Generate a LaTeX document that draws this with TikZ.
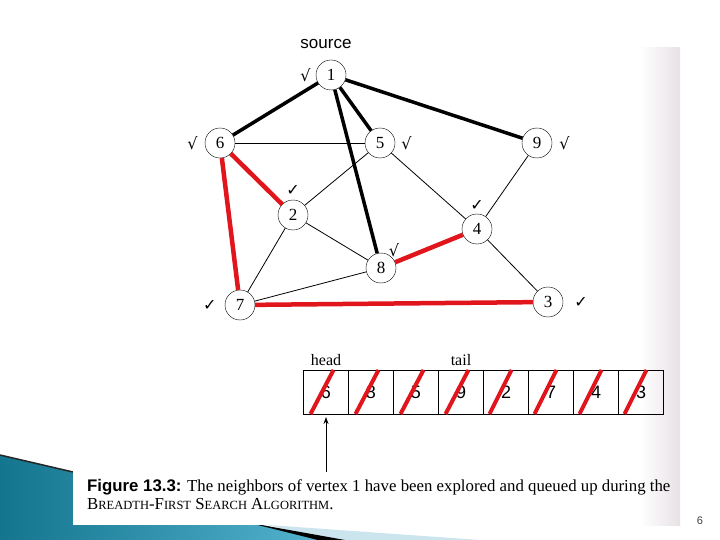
\documentclass[tikz,border=0pt]{standalone}
\usepackage{fontspec}
\setmainfont{Liberation Serif}
\setsansfont{Liberation Sans}
\newfontfamily\checkfont{DejaVu Sans}
\usepackage{xcolor}
\usetikzlibrary{arrows.meta,positioning}
\definecolor{redge}{HTML}{E0161C}
\definecolor{tealdark}{HTML}{14758F}
\definecolor{teallight}{HTML}{55B4CF}
\definecolor{paleblue}{HTML}{CBE4EE}
\definecolor{scanedge}{HTML}{E8E1E6}
\newcommand{\fakesc}[2]{#1{\fontsize{12.5}{14}\selectfont #2}}

\begin{document}
\begin{tikzpicture}[
  x=1pt, y=-1pt,
  >={Stealth[length=7pt, width=5pt]},
  vtx/.style={draw, circle, fill=white, minimum size=30pt, inner sep=0pt, font=\fontsize{17}{19}\selectfont},
  tree/.style={line width=3.5pt},
  redtree/.style={draw=redge, line width=4.5pt},
  plain/.style={line width=0.8pt},
  chk/.style={inner sep=0pt, font=\checkfont\fontsize{16}{18}\selectfont},
  cell/.style={draw, minimum width=45pt, minimum height=44pt, inner sep=0pt, outer sep=0pt, font=\sffamily\fontsize{18}{20}\selectfont},
  slash/.style={draw=redge, line width=4pt},
]
\useasboundingbox (0,0) rectangle (720,540);
% slide background and the scanned page
\fill[white] (0,0) rectangle (720,540);
\shade[left color=tealdark, right color=teallight] (0,455) -- (73,472) -- (73,525) -- (262,525) -- (330,540) -- (0,540) -- cycle;
\fill[paleblue] (268,525) -- (480,540) -- (330,540) -- cycle;
\fill[black] (250,523) -- (345,540) -- (318,540) -- cycle;
\draw[line width=1.5pt, black!85] (0,455) -- (73,472);
\fill[white] (73,48) rectangle (680,525);
\shade[left color=white, right color=scanedge] (640,48) rectangle (680,525);
% nodes
\node[font=\sffamily\fontsize{17}{19}\selectfont] (src) at (326,44) {source};
\node[vtx] (v1) at (331,75) {1};
\node[vtx] (v6) at (220,143) {6};
\node[vtx] (v5) at (380,143) {5};
\node[vtx] (v9) at (537,143) {9};
\node[vtx] (v2) at (293,215) {2};
\node[vtx] (v4) at (477,229) {4};
\node[vtx] (v8) at (381,268) {8};
\node[vtx] (v7) at (240,305) {7};
\node[vtx] (v3) at (548,302) {3};
% marks for visited vertices
\node[chk, left=5pt of v1] (c1) {√};
\node[chk, left=7pt of v6] (c6) {√};
\node[chk, right=6pt of v5] (c5) {√};
\node[chk, right=7pt of v9] (c9) {√};
\node[chk, above=4pt of v2] (c2) {✓};
\node[chk, above=3pt of v4] (c4) {✓};
\node[chk, above right=0pt and -3pt of v8] (c8) {√};
\node[chk, left=8pt of v7] (c7) {✓};
\node[chk, right=11pt of v3] (c3) {✓};
% edges
\draw[tree] (v1) -- (v6);
\draw[tree] (v1) -- (v5);
\draw[tree] (v1) -- (v9);
\draw[tree] (v1) -- (v8);
\draw[plain] (v6) -- (v5);
\draw[plain] (v5) -- (v2);
\draw[plain] (v5) -- (v4);
\draw[plain] (v9) -- (v4);
\draw[plain] (v2) -- (v8);
\draw[plain] (v2) -- (v7);
\draw[plain] (v8) -- (v7);
\draw[plain] (v4) -- (v3);
\draw[redtree] (v6) -- (v2);
\draw[redtree] (v6) -- (v7);
\draw[redtree] (v8) -- (v4);
\draw[redtree] (v7) -- (v3);
% the queue
\node[cell] (q1) at (326,392) {6};
\node[cell, right=0pt of q1] (q2) {8};
\node[cell, right=0pt of q2] (q3) {5};
\node[cell, right=0pt of q3] (q4) {9};
\node[cell, right=0pt of q4] (q5) {2};
\node[cell, right=0pt of q5] (q6) {7};
\node[cell, right=0pt of q6] (q7) {4};
\node[cell, right=0pt of q7] (q8) {3};
\node[font=\fontsize{16}{18}\selectfont, above=1pt of q1] (head) {head};
\node[font=\fontsize{16}{18}\selectfont, above=1pt of q4] (tail) {tail};
\draw[slash] ([xshift=7pt]q1.south west) -- ([xshift=30pt]q1.north west);
\draw[slash] ([xshift=7pt]q2.south west) -- ([xshift=30pt]q2.north west);
\draw[slash] ([xshift=7pt]q3.south west) -- ([xshift=30pt]q3.north west);
\draw[slash] ([xshift=7pt]q4.south west) -- ([xshift=30pt]q4.north west);
\draw[slash] ([xshift=6pt]q5.south west) -- ([xshift=28pt]q5.north west);
\draw[slash] ([xshift=6pt]q6.south west) -- ([xshift=28pt]q6.north west);
\draw[slash] ([xshift=6pt]q7.south west) -- ([xshift=28pt]q7.north west);
\draw[slash] ([xshift=6pt]q8.south west) -- ([xshift=28pt]q8.north west);
\coordinate (ptr) at (326,472);
\draw[->, line width=0.9pt, shorten >=3pt] (ptr) -- (q1.south);
% caption and slide number
\node[anchor=north west, align=left, inner sep=0pt, font=\fontsize{16.8}{18}\selectfont] (cap) at (87,479)
  {\textsf{\textbf{Figure 13.3:}} The neighbors of vertex 1 have been explored and queued up during the\\
   \fakesc{B}{READTH}-\fakesc{F}{IRST} \fakesc{S}{EARCH} \fakesc{A}{LGORITHM}.};
\node[font=\sffamily\fontsize{11}{13}\selectfont, text=black!75] (pg) at (700,521) {6};
\end{tikzpicture}
\end{document}
